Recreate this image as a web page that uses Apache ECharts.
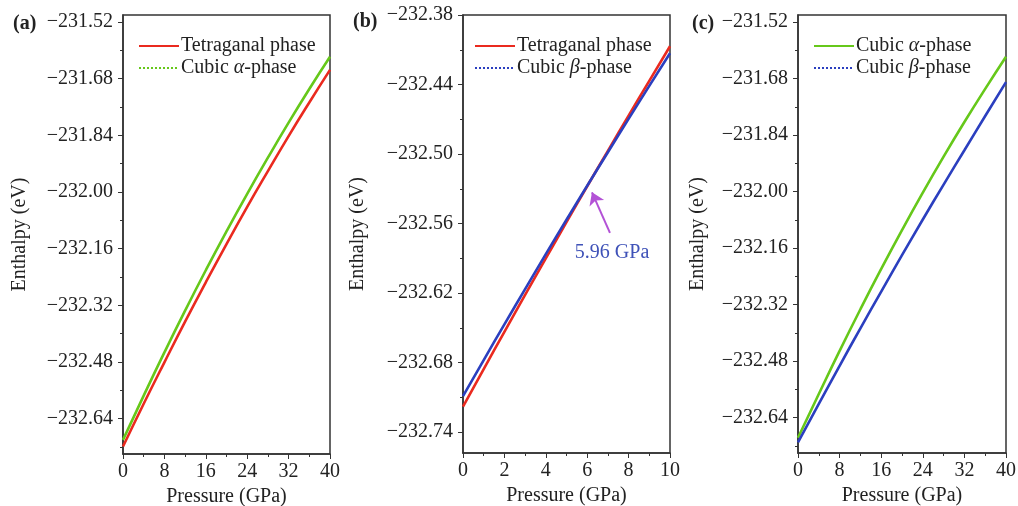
<!DOCTYPE html>
<html>
<head>
<meta charset="utf-8">
<script src="https://cdn.jsdelivr.net/npm/echarts@6/dist/echarts.min.js"></script>
<style>
html,body{margin:0;padding:0;background:#fff;}
#chart{width:1018px;height:506px;}
</style>
</head>
<body>
<div id="chart"></div>
<script>
// ---- data ----
const pressureAC = [0, 4, 8, 12, 16, 20, 24, 28, 32, 36, 40];
const pressureB = [0, 1, 2, 3, 4, 5, 6, 7, 8, 9, 10];

const tetraA = [-232.719, -232.598, -232.481, -232.366, -232.255, -232.147, -232.042, -231.941, -231.842, -231.747, -231.655];
const alphaA = [-232.700, -232.575, -232.453, -232.335, -232.221, -232.111, -232.005, -231.903, -231.804, -231.709, -231.618];

const tetraB = [-232.718, -232.6856, -232.6534, -232.6216, -232.590, -232.5588, -232.5278, -232.4972, -232.4668, -232.4368, -232.407];
const betaB = [-232.709, -232.6778, -232.6470, -232.6166, -232.5864, -232.5567, -232.5274, -232.4984, -232.4696, -232.4412, -232.413];

const alphaC = [-232.697, -232.573, -232.451, -232.333, -232.219, -232.109, -232.003, -231.901, -231.803, -231.709, -231.618];
const betaC = [-232.710, -232.601, -232.493, -232.387, -232.283, -232.180, -232.079, -231.980, -231.883, -231.786, -231.690];

const yTicksAC = [-232.64, -232.48, -232.32, -232.16, -232.00, -231.84, -231.68, -231.52];
const yMinorAC = [-232.72, -232.56, -232.40, -232.24, -232.08, -231.92, -231.76, -231.60];
const yTicksB = [-232.74, -232.68, -232.62, -232.56, -232.50, -232.44, -232.38];
const yMinorB = [-232.71, -232.65, -232.59, -232.53, -232.47, -232.41];

const crossLabel = '5.96 GPa';
const arrowFrom = [7.10, -232.568];
const arrowTo = [6.23, -232.533];
const crossTextAt = [7.2, -232.585];

// ---- styling ----
const FONT = 'Liberation Serif';
const TXT = '#222';
const RED = '#ea2a1f';
const GREEN = '#66c81a';
const BLUE = '#2b3fbf';

function zip(xs, ys) { return xs.map((x, i) => [x, ys[i]]); }
const fmtY = v => (v < 0 ? '\u2212' : '') + Math.abs(v).toFixed(2);

const grids = [
  {left: 123, top: 15, width: 207, height: 439},
  {left: 463, top: 15, width: 207, height: 438},
  {left: 798, top: 15, width: 208, height: 438}
].map(g => Object.assign(g, {show: true, borderColor: '#333', borderWidth: 1.5, backgroundColor: 'transparent', containLabel: false, outerBoundsMode: 'none'}));

function xAxis(gi, max, interval) {
  return {
    type: 'value', gridIndex: gi, min: 0, max: max, interval: interval,
    name: 'Pressure (GPa)', nameLocation: 'middle', nameGap: 29,
    nameTextStyle: {fontFamily: FONT, fontSize: 20, color: TXT},
    axisLine: {lineStyle: {color: '#333', width: 1.5}},
    axisTick: {length: 5, lineStyle: {color: '#333'}},
    minorTick: {show: true, splitNumber: 2, length: 3, lineStyle: {color: '#333'}},
    axisLabel: {fontFamily: FONT, fontSize: 20, color: TXT, margin: 8},
    splitLine: {show: false}
  };
}
function yAxisMain(gi, min, max, ticks, gap) {
  return {
    type: 'value', gridIndex: gi, min: min, max: max, position: 'left',
    name: 'Enthalpy (eV)', nameLocation: 'middle', nameGap: gap,
    nameTextStyle: {fontFamily: FONT, fontSize: 20, color: TXT},
    axisLine: {show: true, lineStyle: {color: '#333', width: 1.5}},
    axisTick: {show: true, customValues: ticks, length: 5, lineStyle: {color: '#333'}},
    axisLabel: {customValues: ticks, formatter: fmtY, fontFamily: FONT, fontSize: 20, color: TXT, margin: 10},
    splitLine: {show: false}
  };
}
function yAxisMinor(gi, min, max, ticks) {
  return {
    type: 'value', gridIndex: gi, min: min, max: max, position: 'left', offset: 0,
    axisLine: {show: false},
    axisTick: {show: true, customValues: ticks, length: 3, lineStyle: {color: '#333'}},
    axisLabel: {show: false},
    splitLine: {show: false}
  };
}
function line(name, xi, yi, data, color) {
  return {
    name: name, type: 'line', xAxisIndex: xi, yAxisIndex: yi, data: data,
    smooth: true, symbol: 'none', lineStyle: {color: color, width: 2.6}, itemStyle: {color: color}
  };
}
function legend(left, items) {
  return {
    orient: 'vertical', left: left, top: 31, itemWidth: 40, itemHeight: 12, itemGap: 2,
    data: items,
    itemStyle: {opacity: 0},
    formatter: n => n.replace('\u03b1', '{i|\u03b1}').replace('\u03b2', '{i|\u03b2}'),
    textStyle: {fontFamily: FONT, fontSize: 20, color: TXT, padding: [0, 0, 0, -3],
      rich: {i: {fontFamily: FONT, fontSize: 20, fontStyle: 'italic', color: TXT}}}
  };
}

const T = 'Tetraganal phase', A = 'Cubic \u03b1-phase', B = 'Cubic \u03b2-phase';
const TB = 'Tetraganal phase ', BB = 'Cubic \u03b2-phase ';
const AC = 'Cubic \u03b1-phase  ', BC = 'Cubic \u03b2-phase  ';

const option = {
  backgroundColor: '#fff',
  animation: false,
  title: [
    {text: '(a)', left: 8, top: 9},
    {text: '(b)', left: 348, top: 7},
    {text: '(c)', left: 687, top: 9}
  ].map(t => Object.assign(t, {textStyle: {fontFamily: FONT, fontSize: 20, fontWeight: 'bold', color: TXT}})),
  grid: grids,
  xAxis: [xAxis(0, 40, 8), xAxis(1, 10, 2), xAxis(2, 40, 8)],
  yAxis: [
    yAxisMain(0, -232.74, -231.50, yTicksAC, 93),
    yAxisMinor(0, -232.74, -231.50, yMinorAC),
    yAxisMain(1, -232.758, -232.38, yTicksB, 95),
    yAxisMinor(1, -232.758, -232.38, yMinorB),
    yAxisMain(2, -232.74, -231.50, yTicksAC, 90),
    yAxisMinor(2, -232.74, -231.50, yMinorAC)
  ],
  legend: [
    legend(133, [{name: T}, {name: A, lineStyle: {type: 'dotted'}}]),
    legend(469, [{name: TB}, {name: BB, lineStyle: {type: 'dotted'}}]),
    legend(808, [{name: AC}, {name: BC, lineStyle: {type: 'dotted'}}])
  ],
  series: [
    line(T, 0, 0, zip(pressureAC, tetraA), RED),
    line(A, 0, 0, zip(pressureAC, alphaA), GREEN),
    line(TB, 1, 2, zip(pressureB, tetraB), RED),
    Object.assign(line(BB, 1, 2, zip(pressureB, betaB), BLUE), {
      markLine: {
        silent: true, symbol: ['none', 'arrow'], symbolSize: 12,
        label: {show: false},
        lineStyle: {color: '#b352d6', width: 2, type: 'solid'},
        itemStyle: {color: '#b352d6'},
        data: [[{coord: arrowFrom}, {coord: arrowTo}]]
      },
      markPoint: {
        silent: true, symbol: 'circle', symbolSize: 0,
        label: {show: true, position: 'inside', formatter: crossLabel, fontFamily: FONT, fontSize: 20, color: '#3f52b8'},
        data: [{coord: crossTextAt}]
      }
    }),
    line(AC, 2, 4, zip(pressureAC, alphaC), GREEN),
    line(BC, 2, 4, zip(pressureAC, betaC), BLUE)
  ]
};

const chart = echarts.init(document.getElementById('chart'), null, {renderer: 'canvas'});
chart.setOption(option);
</script>
</body>
</html>
